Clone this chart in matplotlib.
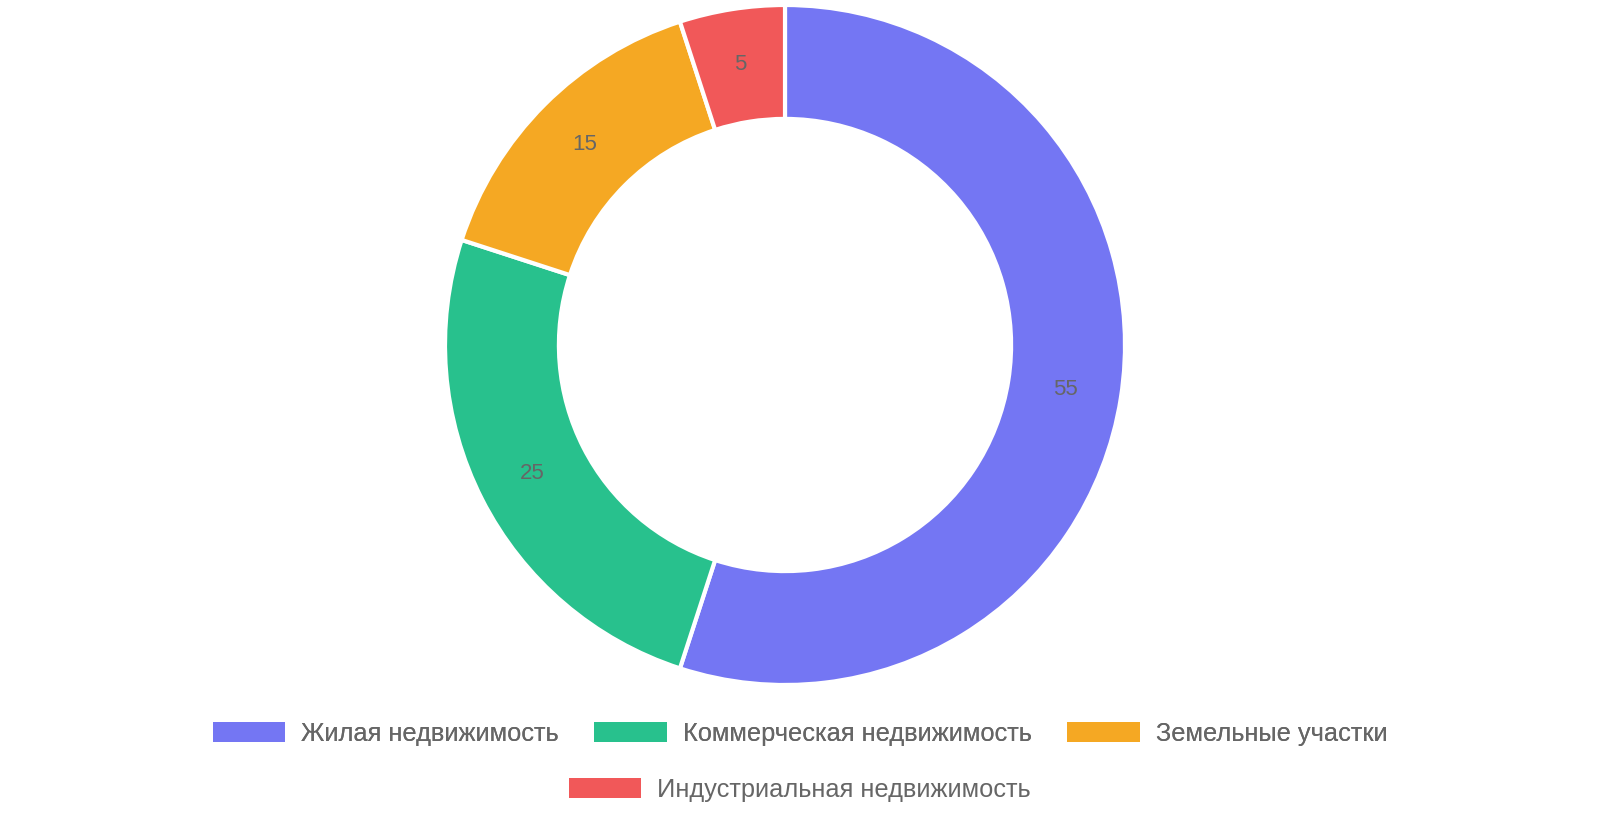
import matplotlib
matplotlib.use("Agg")
import matplotlib.pyplot as plt
from matplotlib.patches import Patch
import numpy as np

plt.rcParams['font.family'] = ['Liberation Sans', 'DejaVu Sans']

categories = ["Жилая недвижимость", "Коммерческая недвижимость", "Земельные участки", "Индустриальная недвижимость"]
values = [55, 25, 15, 5]
colors = ["#7476f3", "#28c18d", "#f5a823", "#f15859"]

fig = plt.figure(figsize=(16, 8.4), dpi=100)
ax = fig.add_axes([445/1600, (840-685)/840, 680/1600, 680/840])
ax.pie(values, colors=colors, startangle=90, counterclock=False,
       radius=1, wedgeprops=dict(width=0.335, edgecolor='white', linewidth=3))
total = sum(values)
ang = 90.0
for v in values:
    mid = ang - v / total * 360 / 2
    ang -= v / total * 360
    r = 0.835
    ax.text(r*np.cos(np.radians(mid)), r*np.sin(np.radians(mid)), str(v),
            ha='center', va='center', fontsize=16, color='#666666')
ax.set_xlim(-1, 1); ax.set_ylim(-1, 1); ax.set_aspect('equal'); ax.axis('off')

handles = [Patch(facecolor=c, edgecolor='none') for c in colors]
kw = dict(frameon=False, fontsize=18.3, labelcolor='#666666', handlelength=2.85,
          handleheight=0.8, handletextpad=0.63, columnspacing=1.4, loc='center')
l1 = fig.legend(handles[:3], categories[:3], ncol=3, bbox_to_anchor=(0.5, 1-734/840), **kw)
fig.add_artist(l1)
fig.legend(handles[3:], categories[3:], ncol=1, bbox_to_anchor=(0.5, 1-790/840), **kw)
fig.savefig("out.png", dpi=100)
